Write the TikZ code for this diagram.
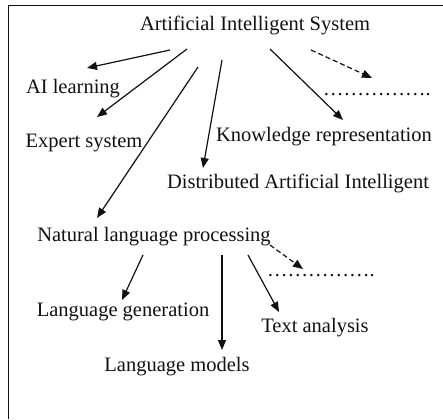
\documentclass[tikz,border=0pt]{standalone}
\usepackage{fontspec}
\setmainfont{Liberation Serif}
\usetikzlibrary{calc,arrows.meta}
\definecolor{ink}{HTML}{111111}
\newcommand{\dotrow}{\dots\dots\dots\dots\dots.}

\begin{document}
\begin{tikzpicture}[x=1pt,y=-1pt,
  lbl/.style={inner sep=0pt,text=ink,font=\fontsize{20.5}{24}\selectfont},
  arr/.style={ink,line width=1.2pt,-{Triangle[length=10pt,width=8pt]}},
  darr/.style={arr,dash pattern=on 5pt off 3pt}]
\useasboundingbox (0,0) rectangle (443,419);
\fill[white] (0,0) rectangle (443,419);
\draw[ink,line width=1.5pt] (8.5,419)--(8.5,5.5)--(443,5.5);
% top level
\node[lbl] (ais) at (255,25) {Artificial Intelligent System};
\node[lbl] (ail) at (73,89) {AI learning};
\node[lbl] (exp) at (84,143) {Expert system};
\node[lbl] (kr) at (324,137) {Knowledge representation};
\node[lbl] (dai) at (298,183) {Distributed Artificial Intelligent};
\node[lbl] (nlp) at (154,237) {Natural language processing};
\node[lbl] (dots1) at (377,95) {\dotrow};
% language branch
\node[lbl] (dots2) at (321,276) {\dotrow};
\node[lbl] (lgen) at (123,312) {Language generation};
\node[lbl] (tan) at (315,328) {Text analysis};
\node[lbl] (lmod) at (177,367) {Language models};
\draw[arr] ($(ais)+(-85,25)$)--($(ail)+(14,-21)$);
\draw[arr] ($(ais)+(-68,24)$)--($(exp)+(13,-26)$);
\draw[arr] ($(ais)+(-57,42)$)--($(nlp)+(-57,-19)$);
\draw[arr] ($(ais)+(-33,35)$)--($(dai)+(-95,-15)$);
\draw[arr] ($(ais)+(15,24)$)--($(kr)+(19,-17)$);
\draw[darr] ($(ais)+(56,25)$)--($(dots1)+(-5,-17)$);
\draw[arr] ($(nlp)+(-11,18)$)--($(lgen)+(-1,-12)$);
\draw[arr] ($(nlp)+(68,18)$)--($(lmod)+(45,-17)$);
\draw[arr] ($(nlp)+(94,18)$)--($(tan)+(-36,-16)$);
\draw[darr] ($(nlp)+(116,8)$)--($(dots2)+(-18,-7)$);
\end{tikzpicture}
\end{document}
